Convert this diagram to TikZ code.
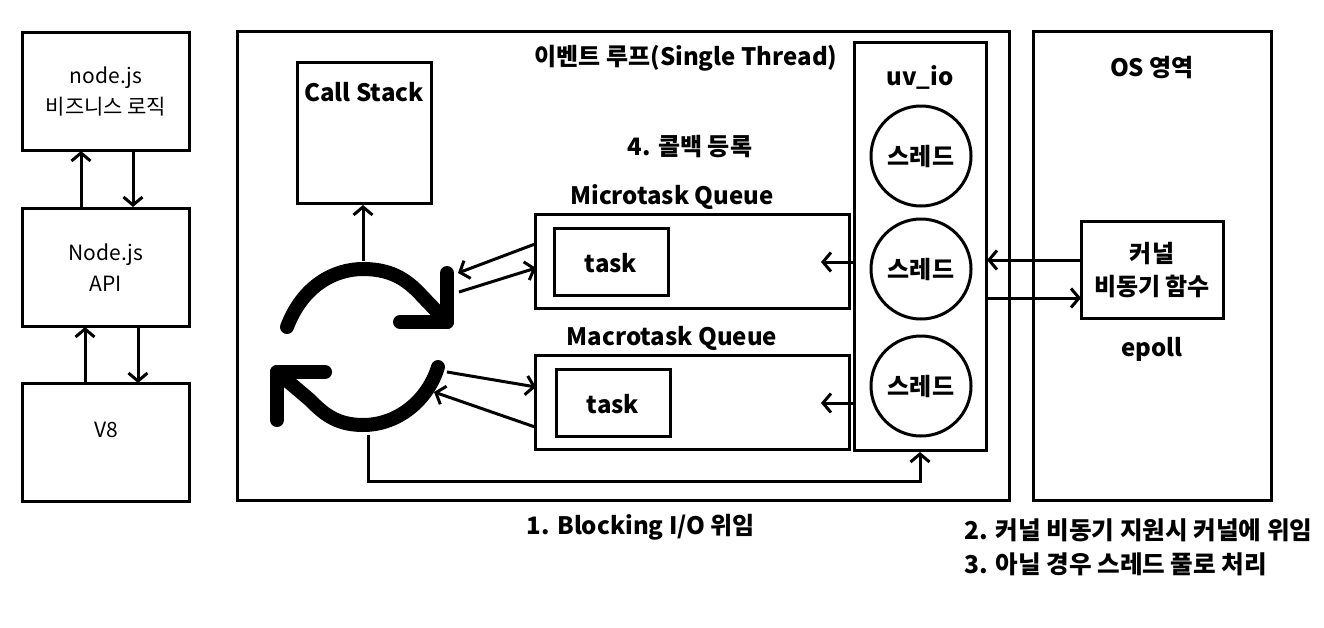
\documentclass[tikz,border=0pt]{standalone}
\usepackage{fontspec}
\setmainfont{Noto Sans CJK KR}
\usetikzlibrary{arrows.meta}
\begin{document}
\begin{tikzpicture}[x=1pt,y=-1pt,
 box/.style={draw=black,line width=3pt,fill=white,inner sep=0pt},
 conn/.style={draw=black,line width=3pt,-{Straight Barb[length=8pt,width=19pt,line width=3pt]}},
 thin text/.style={font=\fontsize{21}{31}\selectfont,align=center},
 bold text/.style={font=\fontsize{24}{33}\selectfont\bfseries,align=center},
 note text/.style={font=\fontsize{24.6}{33}\selectfont\bfseries,align=left},
 arc line/.style={draw=black,line width=14pt,line cap=round,line join=round}]
\useasboundingbox (0,0) rectangle (1324,627);
\fill[white] (0,0) rectangle (1324,627);
\node[box,minimum width=167pt,minimum height=118pt] (biz) at (106,91) {};
\node[box,minimum width=167pt,minimum height=118pt] (api) at (106,267) {};
\node[box,minimum width=167pt,minimum height=118pt] (veight) at (106,442) {};
\node[thin text] (biztext) at (106,91) {node.js\\비즈니스 로직};
\node[thin text] (apitext) at (106,268) {Node.js\\API};
\node[thin text] at (106,430) (veighttext) {V8};
\node[box,minimum width=772pt,minimum height=469pt] (loop) at (623,266) {};
\node[box,minimum width=238pt,minimum height=469pt] (os) at (1152,266) {};
\node[bold text] (looptitle) at (686,58) {이벤트 루프(Single Thread)};
\node[bold text] (ostitle) at (1152,68) {OS 영역};
\node[box,minimum width=134pt,minimum height=141pt] (stack) at (364,133) {};
\node[bold text] (stacktitle) at (364,92) {Call Stack};
\node[bold text] (cb) at (690,147) {4. 콜백 등록};
\node[box,minimum width=314pt,minimum height=94pt] (micro) at (692,261) {};
\node[box,minimum width=314pt,minimum height=94pt] (macro) at (692,402) {};
\node[bold text] (microtitle) at (672,197) {Microtask Queue};
\node[bold text] (macrotitle) at (672,338) {Macrotask Queue};
\node[box,minimum width=114pt,minimum height=67pt] (t1) at (611,262) {};
\node[bold text] at (611,263) (t1text) {task};
\node[box,minimum width=114pt,minimum height=67pt] (t2) at (613,403) {};
\node[bold text] at (613,404) (t2text) {task};
\node[box,minimum width=132pt,minimum height=408pt] (uv) at (920,246) {};
\node[bold text] (uvtitle) at (920,77) {uv\_io};
\foreach \n/\y in {a/156,b/269,c/386}{
 \node[box,circle,minimum size=100pt] (th\n) at (921,\y) {};
 \node[bold text] at (921,\y) {스레드};
}
\node[box,minimum width=142pt,minimum height=97pt] (kern) at (1152,270) {};
\node[bold text] at (1152,270) (kerntext) {커널\\비동기 함수};
\node[bold text] (ep) at (1152,349) {epoll};
\node[bold text] (n1) at (641,527) {1. Blocking I/O 위임};
\node[note text,anchor=west] (n2) at (961,530) {2. 커널 비동기 지원시 커널에 위임};
\node[note text,anchor=west] (n3) at (961,564) {3. 아닐 경우 스레드 풀로 처리};
% connectors
\coordinate (p1) at (81,208); \coordinate (p1e) at (81,151);
\draw[conn] (p1) -- (p1e);
\coordinate (p2) at (133,150); \coordinate (p2e) at (133,207);
\draw[conn] (p2) -- (p2e);
\coordinate (p3) at (85,384); \coordinate (p3e) at (85,327);
\draw[conn] (p3) -- (p3e);
\coordinate (p4) at (138,326); \coordinate (p4e) at (138,383);
\draw[conn] (p4) -- (p4e);
\coordinate (s1) at (363,261); \coordinate (s1e) at (363,205);
\draw[conn] (s1) -- (s1e);
\coordinate (m1) at (535,244); \coordinate (m1e) at (458,273);
\draw[conn] (m1) -- (m1e);
\coordinate (m2) at (459,292); \coordinate (m2e) at (536,268);
\draw[conn] (m2) -- (m2e);
\coordinate (k1) at (447,372); \coordinate (k1e) at (536,387);
\draw[conn] (k1) -- (k1e);
\coordinate (k2) at (535,427) ; \coordinate (k2e) at (434,392);
\draw[conn] (k2) -- (k2e);
\coordinate (u1) at (854,262); \coordinate (u1e) at (821,262);
\draw[conn] (u1) -- (u1e);
\coordinate (u2) at (854,403); \coordinate (u2e) at (821,403);
\draw[conn] (u2) -- (u2e);
\coordinate (r1) at (1081,260); \coordinate (r1e) at (987,260);
\draw[conn] (r1) -- (r1e);
\coordinate (r2) at (986,298); \coordinate (r2e) at (1081,298);
\draw[conn] (r2) -- (r2e);
\coordinate (b0) at (368,435); \coordinate (b1) at (920,481); \coordinate (b2) at (920,452);
\draw[conn] (b0) |- (b1) -- (b2);
% arcs
\draw[arc line] (287,327) .. controls (303,285) and (335,269) .. (363,269) .. controls (395,269) and (410,283) .. (423,297) -- (447,322);
\draw[arc line] (400,322) -- (447,322) -- (447,273);
\draw[arc line] (438,367) .. controls (428,400) and (398,425) .. (363,425) .. controls (335,425) and (322,412) .. (310,400) -- (277,372);
\draw[arc line] (325,372) -- (277,372) -- (277,420);
\end{tikzpicture}
\end{document}
